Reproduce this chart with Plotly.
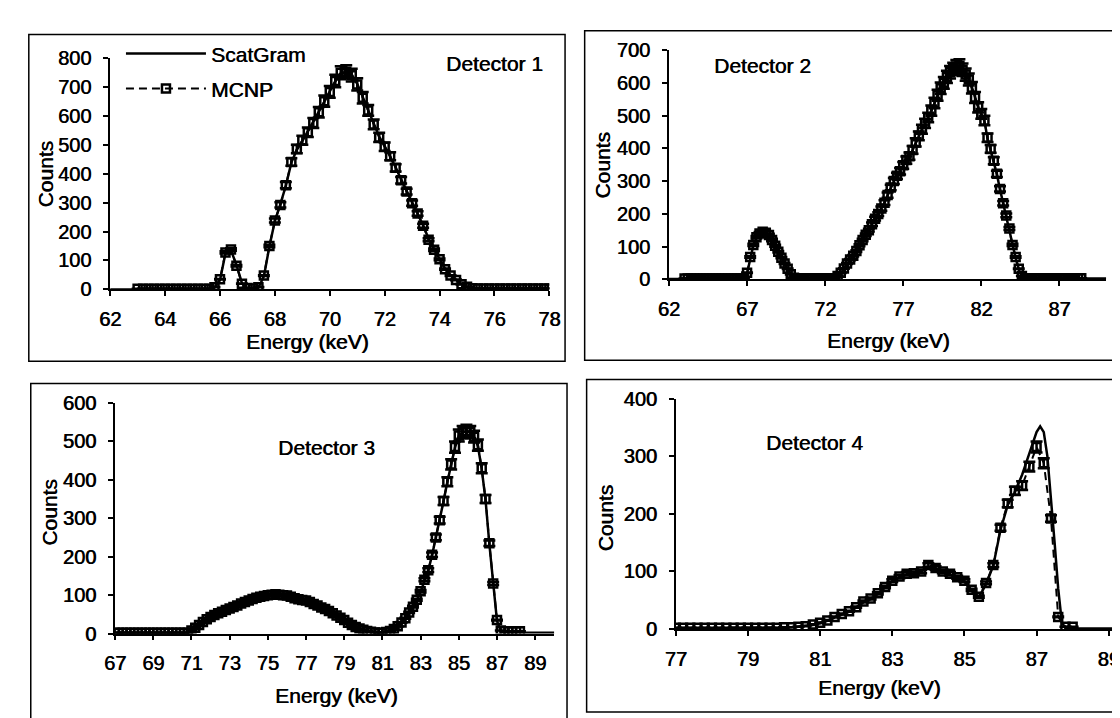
import plotly.graph_objects as go

W, H = 1120, 718

# ---------------- Detector 1 ----------------
d1_mcnp_e = [63.0,63.2,63.4,63.6,63.8,64.0,64.2,64.4,64.6,64.8,65.0,65.2,65.4,65.6,
             65.8,66.0,66.2,66.4,66.6,66.8,67.0,67.2,67.4,67.6,67.8,68.0,68.2,68.4,68.6,68.8,
             69.0,69.2,69.4,69.6,69.8,70.0,70.2,70.4,70.6,70.8,71.0,71.2,71.4,71.6,71.8,
             72.0,72.2,72.4,72.6,72.8,73.0,73.2,73.4,73.6,73.8,74.0,74.2,74.4,74.6,74.8,
             75.0,75.2,75.4,75.6,75.8,76.0,76.2,76.4,76.6,76.8,77.0,77.2,77.4,77.6,77.8,78.0]
d1_mcnp = [2,2,2,2,2,2,2,2,2,2,2,2,2,2,
           8,35,128,138,82,20,5,3,8,48,150,238,292,360,440,485,515,543,575,612,650,682,720,748,752,
           740,708,662,618,570,525,493,460,420,377,338,298,262,220,172,137,104,70,48,33,18,9,4,
           3,3,3,3,3,3,3,3,3,3,3,3,3,3]
d1_scat_e = [62.0,63.0,64.0,65.0,65.6,
             65.8,66.0,66.2,66.4,66.6,66.8,67.0,67.2,67.4,67.6,67.8,68.0,68.2,68.4,68.6,68.8,
             69.0,69.2,69.4,69.6,69.8,70.0,70.2,70.4,70.6,70.8,71.0,71.2,71.4,71.6,71.8,
             72.0,72.2,72.4,72.6,72.8,73.0,73.2,73.4,73.6,73.8,74.0,74.2,74.4,74.6,74.8,75.0,75.2,
             75.4,76.0,77.0,78.0]
d1_scat = [0,0,0,0,0,
           6,32,125,135,85,22,4,2,6,45,148,236,295,358,438,482,512,545,578,610,648,684,718,745,750,
           742,710,665,620,572,528,495,460,422,380,340,300,264,222,175,138,105,72,50,34,19,8,3,
           2,2,2,2]

# ---------------- Detector 2 ----------------
d2_mcnp_e = [63.0,63.2,63.4,63.6,63.8,64.0,64.2,64.4,64.6,64.8,65.0,65.2,65.4,65.6,65.8,66.0,66.2,66.4,66.6,66.8,
             67.0,67.2,67.4,67.6,67.8,68.0,68.2,68.4,68.6,68.8,69.0,69.2,69.4,69.6,69.8,70.0,
             70.2,70.4,70.6,70.8,71.0,71.2,71.4,71.6,71.8,72.0,72.2,72.4,72.6,
             72.8,73.0,73.2,73.4,73.6,73.8,74.0,74.2,74.4,74.6,74.8,75.0,75.2,75.4,75.6,75.8,
             76.0,76.2,76.4,76.6,76.8,77.0,77.2,77.4,77.6,77.8,78.0,78.2,78.4,78.6,78.8,
             79.0,79.2,79.4,79.6,79.8,80.0,80.2,80.4,80.6,80.8,81.0,81.2,81.4,81.6,81.8,
             82.0,82.2,82.4,82.6,82.8,83.0,83.2,83.4,83.6,83.8,84.0,84.2,84.4,84.6,
             84.8,85.0,85.2,85.4,85.6,85.8,86.0,86.2,86.4,86.6,86.8,87.0,87.2,87.4,87.6,87.8,88.0,88.2,88.4]
d2_mcnp = [2,2,2,2,2,2,2,2,2,2,2,2,2,2,2,2,2,2,2,2,
           20,68,105,128,140,145,142,135,120,102,84,66,48,32,15,5,
           3,3,3,3,3,3,3,3,3,3,3,3,3,
           10,20,33,48,60,72,86,104,120,136,150,168,185,199,216,234,257,280,300,316,
           330,348,364,376,395,418,438,458,476,494,515,538,562,583,600,618,632,642,650,652,
           640,625,610,585,555,525,505,485,432,398,362,322,276,232,195,155,105,68,32,10,
           3,3,3,3,3,3,3,3,3,3,3,3,3,3,3,3,3,3,3]
d2_scat_e = [62.0,66.8,
             67.0,67.2,67.4,67.6,67.8,68.0,68.2,68.4,68.6,68.8,69.0,69.2,69.4,69.6,69.8,70.0,
             70.4,72.6,
             72.8,73.0,73.2,73.4,73.6,73.8,74.0,74.2,74.4,74.6,74.8,75.0,75.2,75.4,75.6,75.8,
             76.0,76.2,76.4,76.6,76.8,77.0,77.2,77.4,77.6,77.8,78.0,78.2,78.4,78.6,78.8,
             79.0,79.2,79.4,79.6,79.8,80.0,80.2,80.4,80.6,80.8,81.0,81.2,81.4,81.6,81.8,
             82.0,82.2,82.4,82.6,82.8,83.0,83.2,83.4,83.6,83.8,84.0,84.2,84.4,84.6,
             84.8,90.0]
d2_scat = [1,1,
           18,65,103,126,139,144,141,133,119,101,83,65,47,30,14,4,
           1,1,
           9,19,32,47,59,71,85,103,119,135,149,167,184,198,215,233,256,279,299,315,
           329,347,363,375,394,417,437,457,475,493,514,537,561,582,599,617,631,641,649,651,
           641,626,611,586,556,526,504,483,430,396,360,320,274,230,193,152,102,65,30,8,
           2,2]

# ---------------- Detector 3 ----------------
d3_mcnp_e = [67.0,67.2,67.4,67.6,67.8,68.0,68.2,68.4,68.6,68.8,69.0,69.2,69.4,69.6,69.8,70.0,70.2,70.4,70.6,70.8,
             71.0,71.2,71.4,71.6,71.8,72.0,72.2,72.4,72.6,72.8,73.0,73.2,73.4,73.6,73.8,
             74.0,74.2,74.4,74.6,74.8,75.0,75.2,75.4,75.6,75.8,76.0,76.2,76.4,76.6,76.8,
             77.0,77.2,77.4,77.6,77.8,78.0,78.2,78.4,78.6,78.8,79.0,79.2,79.4,79.6,79.8,
             80.0,80.2,80.4,80.6,80.8,81.0,81.2,81.4,81.6,81.8,82.0,82.2,82.4,82.6,82.8,
             83.0,83.2,83.4,83.6,83.8,84.0,84.2,84.4,84.6,84.8,85.0,85.2,85.4,85.6,85.8,
             86.0,86.2,86.4,86.6,86.8,87.0,87.2,
             87.4,87.6,87.8,88.0,88.2]
d3_mcnp = [2,2,2,2,2,2,2,2,2,2,2,2,2,2,2,2,2,2,2,2,
           8,15,22,30,37,43,48,53,57,61,65,69,73,78,82,86,90,93,96,98,
           100,101,102,101,100,99,96,92,89,87,86,82,77,73,68,64,59,53,47,41,
           35,28,22,17,13,10,7,5,3,2,2,4,7,12,19,29,40,55,70,88,
           110,140,165,205,250,295,345,395,440,485,515,524,527,524,512,
           490,430,350,235,130,35,8,
           6,6,6,6,6]
d3_scat_e = [67.0,70.8,
             71.0,71.2,71.4,71.6,71.8,72.0,72.2,72.4,72.6,72.8,73.0,73.2,73.4,73.6,73.8,
             74.0,74.2,74.4,74.6,74.8,75.0,75.2,75.4,75.6,75.8,76.0,76.2,76.4,76.6,76.8,
             77.0,77.2,77.4,77.6,77.8,78.0,78.2,78.4,78.6,78.8,79.0,79.2,79.4,79.6,79.8,
             80.0,80.2,80.4,80.6,80.8,81.0,81.2,81.4,81.6,81.8,82.0,82.2,82.4,82.6,82.8,
             83.0,83.2,83.4,83.6,83.8,84.0,84.2,84.4,84.6,84.8,85.0,85.2,85.4,85.6,85.8,
             86.0,86.2,86.4,86.6,86.8,87.0,87.2,
             87.4,88.0,90.0]
d3_scat = [1,1,
           7,14,21,29,36,42,47,52,56,60,64,68,72,77,81,85,89,92,95,97,
           99,100,101,100,99,98,95,91,88,86,85,81,76,72,67,63,58,52,46,40,
           34,27,21,16,12,9,6,4,2,1,1,3,6,11,18,28,39,54,69,87,
           109,139,164,204,249,294,344,394,439,484,514,523,526,523,511,
           488,428,348,233,128,33,6,
           2,2,2]

# ---------------- Detector 4 ----------------
d4_mcnp_e = [77.0,77.2,77.4,77.6,77.8,78.0,78.2,78.4,78.6,78.8,79.0,79.2,79.4,79.6,79.8,
             80.0,80.2,80.4,80.6,80.8,81.0,81.2,81.4,81.6,81.8,82.0,82.2,82.4,82.6,82.8,
             83.0,83.2,83.4,83.6,83.8,84.0,84.2,84.4,84.6,84.8,85.0,85.2,85.4,85.6,85.8,
             86.0,86.2,86.4,86.6,86.8,87.0,87.2,87.4,87.6,87.8,88.0]
d4_mcnp = [2,2,2,2,2,2,2,2,2,2,2,2,2,2,2,
           3,3,4,5,8,11,15,21,26,31,38,48,53,62,73,
           84,91,96,97,100,111,106,100,96,90,84,68,56,80,111,
           176,218,240,249,282,316,288,192,21,4,4]
d4_scat_e = [77.0,79.8,
             80.0,80.2,80.4,80.6,80.8,81.0,81.2,81.4,81.6,81.8,82.0,82.2,82.4,82.6,82.8,
             83.0,83.2,83.4,83.6,83.8,84.0,84.2,84.4,84.6,84.8,85.0,85.2,85.4,85.6,85.8,
             86.0,86.2,86.4,
             86.6,86.8,86.9,87.0,87.1,87.2,87.3,87.4,87.5,87.6,87.7,87.8,89.3]
d4_scat = [1,1,
           2,3,4,5,7,10,14,20,25,30,37,46,52,61,72,
           83,90,95,96,99,108,105,99,95,89,82,66,55,78,110,
           172,215,238,
           268,305,325,342,352,342,300,230,150,70,12,1,1]

x_ticks = {1: (62, 2), 2: (62, 5), 3: (67, 2), 4: (77, 2)}
y_ticks_max = {1: 800, 2: 700, 3: 600, 4: 400}
titles = ["Detector 1", "Detector 2", "Detector 3", "Detector 4"]

panels = [
    (d1_scat_e, d1_scat, d1_mcnp_e, d1_mcnp),
    (d2_scat_e, d2_scat, d2_mcnp_e, d2_mcnp),
    (d3_scat_e, d3_scat, d3_mcnp_e, d3_mcnp),
    (d4_scat_e, d4_scat, d4_mcnp_e, d4_mcnp),
]
for a, b, c, d in panels:
    assert len(a) == len(b), (len(a), len(b))
    assert len(c) == len(d), (len(c), len(d))

# ---------------- geometry (pixels) ----------------
def fx(px):
    return px / W

def fy(py):
    return 1 - py / H

geom = {
    1: dict(xd=(93, 541), yd=(279, 40), xr=(62, 78)),
    2: dict(xd=(663, 1109), yd=(268.5, 32), xr=(62, 90)),
    3: dict(xd=(98, 546), yd=(634, 396), xr=(67, 90)),
    4: dict(xd=(670, 1120), yd=(629.3, 391.7), xr=(77, 89.23)),
}

FONT = "Liberation Sans, Arial, sans-serif"
SHADOW = "0.6px 0px 0px black"
TXT = dict(family=FONT, color="black", size=21, shadow=SHADOW)
TICK = dict(family=FONT, color="black", size=20, shadow=SHADOW)

fig = go.Figure()

for i, (se, sv, me, mv) in enumerate(panels, start=1):
    xa = "x" if i == 1 else f"x{i}"
    ya = "y" if i == 1 else f"y{i}"
    fig.add_trace(go.Scatter(
        x=se, y=sv, xaxis=xa, yaxis=ya, mode="lines", name="ScatGram",
        line=dict(color="black", width=2.5),
        showlegend=(i == 1), legend="legend",
    ))
    fig.add_trace(go.Scatter(
        x=me, y=mv, xaxis=xa, yaxis=ya, mode="lines+markers", name="MCNP",
        line=dict(color="black", width=2, dash="8px,5px"),
        marker=dict(symbol="square-open", size=8, color="black", line=dict(width=2.5, color="black")),
        error_y=dict(type="percent", value=3, color="black", thickness=2.5, width=6),
        showlegend=(i == 1), legend="legend2",
    ))

layout = dict(
    width=W, height=H,
    margin=dict(l=0, r=0, t=0, b=0),
    paper_bgcolor="white", plot_bgcolor="rgba(0,0,0,0)",
    font=dict(family=FONT, color="black", size=20),
    showlegend=True,
)

for i in range(1, 5):
    g = geom[i]
    xk = "xaxis" if i == 1 else f"xaxis{i}"
    yk = "yaxis" if i == 1 else f"yaxis{i}"
    ya = "y" if i == 1 else f"y{i}"
    xa = "x" if i == 1 else f"x{i}"
    t0, dt = x_ticks[i]
    layout[xk] = dict(
        domain=[fx(g["xd"][0]), fx(g["xd"][1])], range=list(g["xr"]), anchor=ya,
        showline=True, linecolor="black", linewidth=1.8, showgrid=False, zeroline=False,
        ticks="outside", ticklen=5, tickwidth=1.5, tickcolor="black",
        tick0=t0, dtick=dt, tickfont=TICK,
        ticklabelstandoff=6,
    )
    layout[yk] = dict(
        domain=[fy(g["yd"][0]), fy(g["yd"][1])], range=[0, y_ticks_max[i]], anchor=xa,
        showline=True, linecolor="black", linewidth=1.8, showgrid=False, zeroline=False,
        ticks="outside", ticklen=5, tickwidth=1.5, tickcolor="black",
        tick0=0, dtick=100, tickfont=TICK,
        ticklabelstandoff=8,
    )

layout["legend"] = dict(
    x=fx(104), y=fy(36), xanchor="left", yanchor="middle",
    bgcolor="rgba(0,0,0,0)", borderwidth=0, itemwidth=80,
    font=TXT,
)
layout["legend2"] = dict(
    x=fx(104), y=fy(72), xanchor="left", yanchor="middle",
    bgcolor="rgba(0,0,0,0)", borderwidth=0, itemwidth=80,
    font=TXT,
)

ann = []
det_pos = [(485, 46), (758, 48), (314, 442), (811, 437)]
for t, (px, py) in zip(titles, det_pos):
    ann.append(dict(text=t, x=fx(px), y=fy(py), xref="paper", yref="paper",
                    showarrow=False, xanchor="center", yanchor="middle", font=TXT))
counts_pos = [(27, 160), (595, 151), (31, 509), (598, 515)]
for px, py in counts_pos:
    ann.append(dict(text="Counts", x=fx(px), y=fy(py), xref="paper", yref="paper",
                    showarrow=False, textangle=-90, xanchor="center", yanchor="middle", font=TXT))
energy_pos = [(294.5, 333), (886.7, 332), (324, 698), (878, 690)]
for px, py in energy_pos:
    ann.append(dict(text="Energy (keV)", x=fx(px), y=fy(py), xref="paper", yref="paper",
                    showarrow=False, xanchor="center", yanchor="middle", font=TXT))
layout["annotations"] = ann

boxes = [(10, 16, 557, 353), (577, 12, 1125, 352), (12, 376, 559, 722), (579, 372, 1125, 715)]
layout["shapes"] = [
    dict(type="rect", xref="paper", yref="paper", x0=fx(a), x1=fx(c), y0=fy(d), y1=fy(b),
         line=dict(color="black", width=1.5), fillcolor="rgba(0,0,0,0)", layer="below")
    for a, b, c, d in boxes
]

fig.update_layout(**layout)
fig.write_html("out.html")
